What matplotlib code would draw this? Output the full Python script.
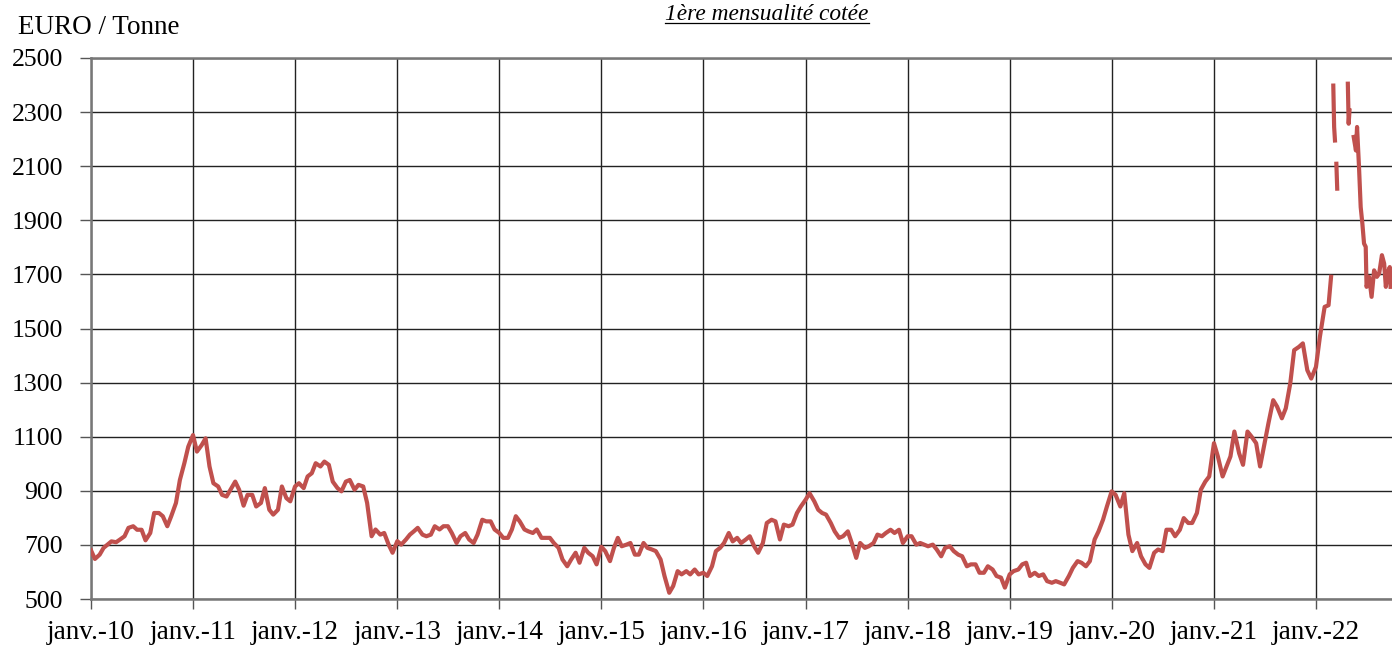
import numpy as np
import pandas as pd
import matplotlib
matplotlib.use("Agg")
import matplotlib.pyplot as plt
from matplotlib.lines import Line2D

# semi-monthly readings (1st and 15th of each month), EUR / t
px_2010 = [680, 648, 664, 689, 701, 713, 710, 720, 732, 763, 769, 756,
           756, 717, 744, 818, 818, 806, 769, 806, 855, 940, 1002, 1063]
px_2011 = [1106, 1045, 1069, 1094, 990, 928, 916, 885, 879, 904, 934, 904,
           845, 885, 885, 842, 855, 910, 830, 812, 830, 916, 873, 861]
px_2012 = [916, 928, 910, 953, 965, 1002, 990, 1008, 996, 934, 910, 898,
           934, 940, 904, 922, 916, 855, 732, 757, 738, 744, 701, 671]
px_2013 = [714, 701, 720, 738, 750, 763, 738, 732, 738, 769, 757, 769,
           769, 744, 707, 732, 744, 720, 707, 738, 793, 787, 787, 757]
px_2014 = [744, 726, 726, 757, 806, 787, 757, 750, 744, 757, 726, 726,
           726, 707, 689, 646, 621, 646, 671, 634, 689, 671, 658, 628]
px_2015 = [693, 677, 640, 689, 726, 695, 701, 707, 664, 664, 707, 689,
           683, 677, 646, 585, 523, 548, 603, 591, 603, 591, 609, 591]
px_2016 = [597, 585, 621, 677, 689, 707, 744, 713, 726, 707, 720, 732,
           695, 671, 707, 781, 793, 787, 720, 775, 769, 775, 818, 842]
px_2017 = [867, 891, 861, 830, 818, 812, 781, 750, 726, 732, 750, 707,
           652, 707, 689, 695, 707, 738, 732, 744, 756, 744, 756, 707]
px_2018 = [732, 732, 701, 707, 701, 695, 701, 683, 658, 689, 695, 677,
           664, 658, 621, 628, 628, 597, 597, 621, 609, 585, 579, 542]
px_2019 = [591, 603, 609, 628, 634, 585, 597, 585, 591, 566, 560, 566,
           560, 554, 585, 615, 640, 634, 621, 640, 720, 750, 793, 842]
px_2020 = [898, 885, 842, 891, 738, 677, 707, 658, 628, 615, 671, 683,
           677, 756, 756, 732, 756, 799, 781, 781, 818, 904, 934, 953]
px_2021 = [1076, 1027, 953, 990, 1027, 1119, 1039, 996, 1119, 1101, 1076, 990,
           1076, 1150, 1235, 1211, 1168, 1205, 1297, 1420, 1432, 1445, 1346, 1315]

# 2022: irregular dates, gaps where no quote was drawn
dates_2022 = ["2022-01-01", "2022-01-15", "2022-02-01", "2022-02-15", "2022-02-24",
              "2022-02-28",
              "2022-03-04", "2022-03-07", "2022-03-10",
              "2022-03-12",
              "2022-03-15", "2022-03-18",
              "2022-03-22",
              "2022-04-25", "2022-04-28", "2022-05-01",
              "2022-05-06",
              "2022-05-16", "2022-05-24", "2022-05-28", "2022-06-04", "2022-06-10",
              "2022-06-16", "2022-06-22", "2022-06-28", "2022-07-01", "2022-07-10",
              "2022-07-19", "2022-07-28", "2022-08-07", "2022-08-15", "2022-08-25",
              "2022-09-02", "2022-09-08", "2022-09-14", "2022-09-22", "2022-09-25"]
px_2022 = [1358, 1469, 1580, 1586, 1691,
           np.nan,
           2398, 2245, 2195,
           np.nan,
           2109, 2017,
           np.nan,
           2405, 2257, 2306,
           np.nan,
           2208, 2158, 2245, 2097, 1949,
           1888, 1814, 1802, 1654, 1691,
           1617, 1715, 1691, 1703, 1771,
           1740, 1654, 1703, 1727, 1654]

years = list(range(2010, 2023))
tick_labels = [f"janv.-{y % 100:02d}" for y in years]

yearly = [px_2010, px_2011, px_2012, px_2013, px_2014, px_2015, px_2016,
          px_2017, px_2018, px_2019, px_2020, px_2021]
vals = [v for yr in yearly for v in yr] + px_2022
dates = list(pd.date_range("2010-01-01", "2021-12-15", freq="SMS")) + list(pd.to_datetime(dates_2022))

plt.rcParams['font.family'] = ['Liberation Serif', 'DejaVu Serif']

fig = plt.figure(figsize=(13.92, 6.47), dpi=100)
ax = fig.add_axes([91 / 1392, 48 / 647, 1 - 91 / 1392 + 0.002, 541 / 647])

ax.plot(dates, vals, color='#C0504D', lw=3.0, solid_joinstyle='round', zorder=3)

ax.set_ylim(500, 2500)
ax.set_yticks(range(500, 2501, 200))
ax.set_xlim(pd.Timestamp("2010-01-01"), pd.Timestamp("2022-10-10"))
ax.set_xticks([pd.Timestamp(f"{y}-01-01") for y in years])
ax.set_xticklabels(tick_labels)

ax.grid(True, color='#222222', lw=1.0)
ax.set_axisbelow(True)
ax.tick_params(axis='y', length=8, width=1, color='#555555', pad=12, labelsize=18.5)
ax.tick_params(axis='x', length=7, width=1, color='#555555', pad=8, labelsize=19.5)
for s in ['left', 'bottom', 'top']:
    ax.spines[s].set_color('#777777')
    ax.spines[s].set_linewidth(1.8)
ax.spines['right'].set_visible(False)

fig.text(18 / 1392, 1 - 27 / 647, "EURO / Tonne", fontsize=19.5, va='center', ha='left')
title = fig.text(767 / 1392, 1 - 15 / 647, "1ère mensualité cotée", fontsize=16.8,
                 style='italic', va='center', ha='center')

fig.canvas.draw()
bb = title.get_window_extent().transformed(fig.transFigure.inverted())
fig.add_artist(Line2D([bb.x0, bb.x1], [bb.y0 + 0.004, bb.y0 + 0.004],
                      transform=fig.transFigure, color='black', lw=0.9))

fig.savefig("out.png", dpi=100)
